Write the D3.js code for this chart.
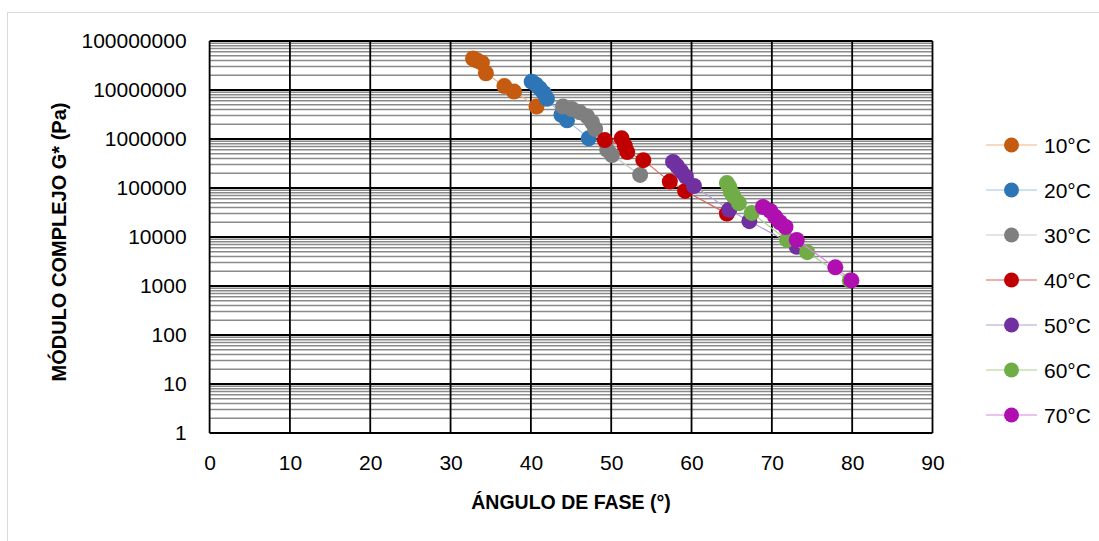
<!DOCTYPE html>
<html>
<head>
<meta charset="utf-8">
<script src="https://cdn.jsdelivr.net/npm/d3@7"></script>
<style>
  body { margin: 0; background: #fff; }
  svg { display: block; font-family: "Liberation Sans", Arial, sans-serif; }
</style>
</head>
<body>
<svg id="chart" width="1099" height="541"></svg>
<script>
// phase angle (deg) / complex modulus G* (Pa), one pair of arrays per temperature
const temps = ["10°C", "20°C", "30°C", "40°C", "50°C", "60°C", "70°C"];

const angle10 = [32.8, 33.3, 33.9, 34.4, 36.7, 37.9, 40.7];
const g10 = [4.4e7, 4.0e7, 3.6e7, 2.2e7, 1.2e7, 9.3e6, 4.6e6];

const angle20 = [40.1, 40.6, 41.1, 41.6, 42.0, 43.8, 44.5, 47.2];
const g20 = [1.48e7, 1.3e7, 1.08e7, 8.7e6, 6.6e6, 3.1e6, 2.4e6, 1.03e6];

const angle30 = [44.0, 45.1, 46.1, 47.0, 47.6, 48.0, 49.5, 50.1, 53.6];
const g30 = [4.6e6, 4.1e6, 3.5e6, 2.9e6, 2.2e6, 1.6e6, 6.0e5, 4.7e5, 1.85e5];

const angle40 = [51.3, 49.2, 51.7, 52.0, 54.0, 57.3, 59.2, 64.4];
const g40 = [1.03e6, 9.5e5, 7.2e5, 5.4e5, 3.7e5, 1.35e5, 8.7e4, 3.0e4];

const angle50 = [57.7, 58.2, 58.7, 59.3, 60.3, 64.7, 67.2, 73.1];
const g50 = [3.4e5, 2.8e5, 2.2e5, 1.7e5, 1.1e5, 3.6e4, 2.1e4, 6.3e3];

const angle60 = [64.4, 64.7, 64.9, 65.2, 65.9, 67.5, 71.9, 74.4, 79.7];
const g60 = [1.26e5, 1.05e5, 8.3e4, 6.9e4, 4.9e4, 3.1e4, 8.7e3, 4.9e3, 1.3e3];

const angle70 = [68.9, 69.8, 70.4, 71.0, 71.7, 73.1, 77.9, 79.9];
const g70 = [4.1e4, 3.4e4, 2.6e4, 2.0e4, 1.6e4, 8.7e3, 2.4e3, 1.3e3];

const xTicks = [0, 10, 20, 30, 40, 50, 60, 70, 80, 90];
const yTicks = [1, 10, 100, 1000, 10000, 100000, 1000000, 10000000, 100000000];

const markerColors = ["#c55a11", "#2e75b6", "#7f7f7f", "#c00000", "#7030a0", "#70ad47", "#b00fb0"];
const lineColors = ["#f4b183", "#9dc3e6", "#c9c9c9", "#e06060", "#b4a0d4", "#a9d18e", "#e080e0"];

const angles = [angle10, angle20, angle30, angle40, angle50, angle60, angle70];
const moduli = [g10, g20, g30, g40, g50, g60, g70];

const series = temps.map((t, i) => ({
  name: t,
  marker: markerColors[i],
  line: lineColors[i],
  points: angles[i].map((a, j) => ({ a, g: moduli[i][j] }))
}));

const svg = d3.select("#chart");

// chart frame (light border as in the spreadsheet export)
svg.append("rect")
  .attr("x", 7.5).attr("y", 12.5)
  .attr("width", 1100).attr("height", 540)
  .attr("fill", "none")
  .attr("stroke", "#d9d9d9");

const plot = { left: 209.6, right: 932.5, top: 41, bottom: 433 };

const x = d3.scaleLinear().domain([0, 90]).range([plot.left, plot.right]);
const y = d3.scaleLog().domain([1, 1e8]).range([plot.bottom, plot.top]);

// minor horizontal grid (2..9 in each decade)
const minor = [];
yTicks.slice(0, -1).forEach(d => {
  for (let k = 2; k <= 9; k++) minor.push(d * k);
});

const grid = svg.append("g");

grid.selectAll(".minor")
  .data(minor)
  .join("line")
  .attr("class", "minor")
  .attr("x1", plot.left).attr("x2", plot.right)
  .attr("y1", d => y(d)).attr("y2", d => y(d))
  .attr("stroke", "#8a8a8a")
  .attr("stroke-width", 1.5);

grid.selectAll(".major-y")
  .data(yTicks)
  .join("line")
  .attr("class", "major-y")
  .attr("x1", plot.left).attr("x2", plot.right)
  .attr("y1", d => y(d)).attr("y2", d => y(d))
  .attr("stroke", "#000")
  .attr("stroke-width", 1.8);

grid.selectAll(".major-x")
  .data(xTicks)
  .join("line")
  .attr("class", "major-x")
  .attr("x1", d => x(d)).attr("x2", d => x(d))
  .attr("y1", plot.top).attr("y2", plot.bottom)
  .attr("stroke", "#000")
  .attr("stroke-width", 1.8);

// axes: labels only, lines come from the grid
const yAxis = svg.append("g")
  .attr("transform", `translate(${plot.left},0)`)
  .call(d3.axisLeft(y).tickValues(yTicks).tickFormat(d3.format("d")).tickSize(0).tickPadding(23));
yAxis.select(".domain").remove();
yAxis.selectAll("text")
  .attr("font-family", "Liberation Sans, Arial, sans-serif")
  .attr("font-size", 21)
  .attr("fill", "#000");

const xAxis = svg.append("g")
  .attr("transform", `translate(0,${plot.bottom})`)
  .call(d3.axisBottom(x).tickValues(xTicks).tickFormat(d3.format("d")).tickSize(0).tickPadding(22));
xAxis.select(".domain").remove();
xAxis.selectAll("text")
  .attr("font-family", "Liberation Sans, Arial, sans-serif")
  .attr("font-size", 21)
  .attr("fill", "#000");

// axis titles
svg.append("text")
  .attr("x", 571)
  .attr("y", 509)
  .attr("text-anchor", "middle")
  .attr("font-weight", "bold")
  .attr("font-size", 19.5)
  .text("ÁNGULO DE FASE (°)");

svg.append("text")
  .attr("transform", `translate(66,${(plot.top + plot.bottom) / 2 + 5}) rotate(-90)`)
  .attr("text-anchor", "middle")
  .attr("font-weight", "bold")
  .attr("font-size", 20)
  .text("MÓDULO COMPLEJO G* (Pa)");

// series
const line = d3.line().x(d => x(d.a)).y(d => y(d.g));

const sg = svg.selectAll(".series")
  .data(series)
  .join("g")
  .attr("class", "series");

sg.append("path")
  .attr("d", d => line(d.points))
  .attr("fill", "none")
  .attr("stroke", d => d.line)
  .attr("stroke-width", 1.2);

sg.each(function (s) {
  d3.select(this).selectAll("circle")
    .data(s.points)
    .join("circle")
    .attr("cx", d => x(d.a))
    .attr("cy", d => y(d.g))
    .attr("r", 8)
    .attr("fill", s.marker);
});

// legend
const legend = svg.append("g")
  .selectAll("g")
  .data(series)
  .join("g")
  .attr("transform", (d, i) => `translate(0,${145 + i * 45})`);

legend.append("line")
  .attr("x1", 986).attr("x2", 1037)
  .attr("stroke", d => d.line)
  .attr("stroke-width", 1.2);

legend.append("circle")
  .attr("cx", 1011.5)
  .attr("r", 7.5)
  .attr("fill", d => d.marker);

legend.append("text")
  .attr("x", 1044)
  .attr("y", 7.5)
  .attr("font-size", 21)
  .text(d => d.name);
</script>
</body>
</html>
